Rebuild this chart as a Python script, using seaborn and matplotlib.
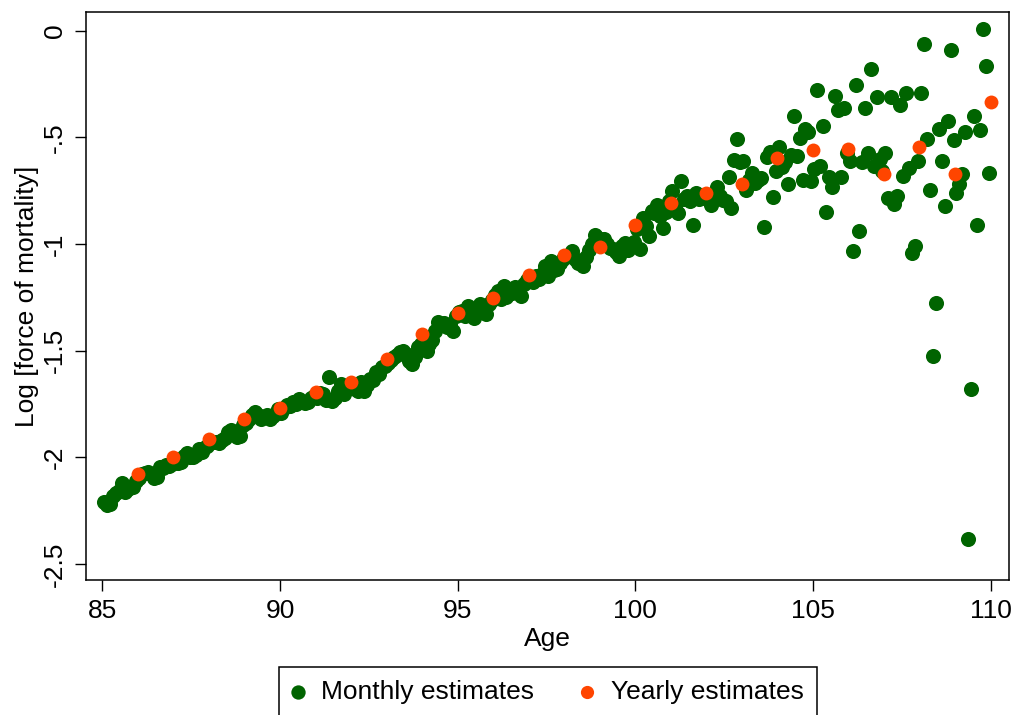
import numpy as np
import pandas as pd
import matplotlib
matplotlib.use("Agg")
import matplotlib.pyplot as plt
import seaborn as sns

# ---- data ----
# monthly estimates, mid-month ages 85 + 1/24 ... 109 + 23/24, one row per year of age
monthly_by_year = {
    85: [-2.210, -2.223, -2.218, -2.180, -2.169, -2.160, -2.122, -2.161, -2.150, -2.140, -2.138, -2.110],
    86: [-2.095, -2.080, -2.075, -2.070, -2.080, -2.099, -2.090, -2.044, -2.050, -2.037, -2.040, -2.030],
    87: [-2.010, -2.029, -2.020, -1.995, -1.982, -2.000, -1.998, -1.990, -1.959, -1.975, -1.955, -1.945],
    88: [-1.925, -1.930, -1.928, -1.935, -1.920, -1.910, -1.880, -1.873, -1.880, -1.905, -1.900, -1.850],
    89: [-1.840, -1.819, -1.800, -1.788, -1.800, -1.819, -1.810, -1.800, -1.819, -1.805, -1.790, -1.775],
    90: [-1.790, -1.770, -1.757, -1.760, -1.741, -1.750, -1.726, -1.740, -1.745, -1.741, -1.720, -1.715],
    91: [-1.720, -1.700, -1.702, -1.730, -1.625, -1.734, -1.720, -1.687, -1.656, -1.702, -1.680, -1.665],
    92: [-1.660, -1.679, -1.690, -1.648, -1.687, -1.660, -1.632, -1.640, -1.601, -1.610, -1.578, -1.570],
    93: [-1.560, -1.545, -1.531, -1.520, -1.508, -1.500, -1.515, -1.547, -1.563, -1.530, -1.485, -1.470],
    94: [-1.480, -1.500, -1.469, -1.450, -1.407, -1.368, -1.376, -1.370, -1.390, -1.380, -1.407, -1.340],
    95: [-1.320, -1.314, -1.340, -1.290, -1.320, -1.345, -1.310, -1.283, -1.300, -1.329, -1.280, -1.265],
    96: [-1.240, -1.220, -1.260, -1.197, -1.251, -1.230, -1.228, -1.200, -1.213, -1.244, -1.190, -1.170],
    97: [-1.160, -1.180, -1.150, -1.165, -1.140, -1.104, -1.150, -1.081, -1.120, -1.119, -1.090, -1.070],
    98: [-1.057, -1.050, -1.034, -1.070, -1.088, -1.080, -1.104, -1.060, -1.030, -1.000, -0.956, -0.970],
    99: [-0.980, -0.979, -1.000, -1.020, -1.026, -1.040, -1.057, -1.010, -0.995, -1.030, -1.011, -0.990],
    100: [-0.930, -1.023, -0.878, -0.917, -0.961, -0.847, -0.855, -0.816, -0.871, -0.925, -0.850, -0.800],
    101: [-0.754, -0.820, -0.855, -0.703, -0.790, -0.777, -0.800, -0.913, -0.762, -0.790, -0.770, -0.785],
    102: [-0.770, -0.816, -0.760, -0.731, -0.777, -0.793, -0.800, -0.687, -0.832, -0.606, -0.510, -0.615],
    103: [-0.610, -0.746, -0.700, -0.668, -0.715, -0.700, -0.690, -0.920, -0.591, -0.568, -0.780, -0.658],
    104: [-0.544, -0.640, -0.614, -0.720, -0.583, -0.401, -0.590, -0.505, -0.700, -0.463, -0.474, -0.707],
    105: [-0.650, -0.277, -0.637, -0.447, -0.852, -0.684, -0.731, -0.306, -0.372, -0.684, -0.361, -0.575],
    106: [-0.611, -1.032, -0.255, -0.938, -0.614, -0.365, -0.572, -0.182, -0.637, -0.311, -0.600, -0.660],
    107: [-0.572, -0.785, -0.312, -0.812, -0.777, -0.348, -0.680, -0.291, -0.642, -1.043, -1.011, -0.611],
    108: [-0.294, -0.062, -0.507, -0.746, -1.527, -1.279, -0.460, -0.611, -0.821, -0.423, -0.093, -0.515],
    109: [-0.759, -0.720, -0.673, -0.477, -2.382, -1.682, -0.401, -0.909, -0.466, 0.006, -0.168, -0.668],
}

yearly_age = [86, 87, 88, 89, 90, 91, 92, 93, 94, 95, 96, 97, 98,
              99, 100, 101, 102, 103, 104, 105, 106, 107, 108, 109, 110]
yearly_val = [-2.079, -1.998, -1.914, -1.819, -1.768, -1.692, -1.645, -1.539, -1.423,
              -1.326, -1.254, -1.144, -1.054, -1.015, -0.909, -0.808, -0.763, -0.718,
              -0.598, -0.560, -0.557, -0.672, -0.547, -0.672, -0.336]

x_ticks = [85, 90, 95, 100, 105, 110]
y_ticks = [0, -0.5, -1, -1.5, -2, -2.5]
y_tick_labels = ["0", "-.5", "-1", "-1.5", "-2", "-2.5"]

# long table for the monthly series (month index -> mid-month age)
rows = []
for year, vals in monthly_by_year.items():
    for m, v in enumerate(vals):
        rows.append({"age": year + (m + 0.5) / 12, "logmu": v})
df_month = pd.DataFrame(rows)
df_year = pd.DataFrame({"age": yearly_age, "logmu": yearly_val})

# ---- style ----
sns.set_theme(style="ticks")
plt.rcParams["font.family"] = ["Liberation Sans", "DejaVu Sans"]
plt.rcParams["axes.unicode_minus"] = False
plt.rcParams["text.color"] = "black"
plt.rcParams["axes.labelcolor"] = "black"
plt.rcParams["xtick.color"] = "black"
plt.rcParams["ytick.color"] = "black"

green = "#006400"
orange = "#FF4500"
fs = 19

fig = plt.figure(figsize=(10.2, 7.15), dpi=100)
ax = fig.add_axes([86 / 1020, 1 - 580 / 715, 923 / 1020, 568 / 715])

sns.scatterplot(data=df_month, x="age", y="logmu", color=green, s=118,
                linewidth=0, label="Monthly estimates", ax=ax, zorder=2)
sns.scatterplot(data=df_year, x="age", y="logmu", color=orange, s=100,
                linewidth=0, label="Yearly estimates", ax=ax, zorder=3)

ax.set_xlim(84.54, 110.52)
ax.set_ylim(-2.575, 0.087)
ax.set_xticks(x_ticks)
ax.set_xticklabels([str(t) for t in x_ticks])
ax.set_yticks(y_ticks)
ax.set_yticklabels(y_tick_labels)

ax.set_xlabel("Age", fontsize=fs, labelpad=3)
ax.set_ylabel("Log [force of mortality]", fontsize=fs, labelpad=3)
ax.tick_params(axis="both", length=7.7, width=1.0, color="black",
               labelcolor="black", labelsize=fs, pad=6)
ax.tick_params(axis="y", labelrotation=90)
for lab in ax.get_yticklabels():
    lab.set_va("center")

for sp in ax.spines.values():
    sp.set_visible(True)
    sp.set_color("black")
    sp.set_linewidth(1.1)

ax.legend_.remove()
h, l = ax.get_legend_handles_labels()
leg = fig.legend(h, l, loc="upper center", bbox_to_anchor=(548 / 1020, 1 - 667 / 715),
                 ncol=2, fontsize=fs, frameon=True, fancybox=False,
                 edgecolor="black", framealpha=1, markerscale=0.95,
                 handlelength=0.4, handletextpad=0.7, columnspacing=1.8,
                 borderpad=0.5, borderaxespad=0)
leg.get_frame().set_linewidth(1.1)

fig.savefig("out.png", dpi=100)
